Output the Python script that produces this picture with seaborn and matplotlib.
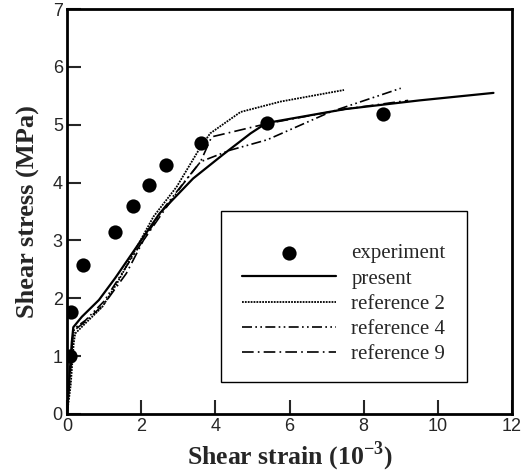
import matplotlib
matplotlib.use("Agg")
import matplotlib.pyplot as plt
from matplotlib.patches import Rectangle
import seaborn as sns
import pandas as pd

# Measured shear stress (MPa) against shear strain (10^-3)
exp_strain = [0.08, 0.10, 0.42, 1.30, 1.78, 2.22, 2.68, 3.62, 5.38, 8.53]
exp_stress = [1.01, 1.76, 2.58, 3.15, 3.60, 3.95, 4.31, 4.69, 5.03, 5.18]

# Present model
present_strain = [0.0, 0.05, 0.13, 0.17, 0.40, 0.86, 1.30, 1.60, 2.50, 3.40, 4.20, 4.95, 5.38, 7.50, 9.50, 11.50]
present_stress = [0.0, 0.50, 1.25, 1.50, 1.68, 1.97, 2.35, 2.63, 3.47, 4.07, 4.48, 4.85, 5.03, 5.27, 5.42, 5.55]

# Reference 2
ref2_strain = [0.0, 0.10, 0.18, 0.22, 0.50, 0.95, 1.35, 2.33, 2.96, 3.55, 3.86, 4.68, 5.76, 7.47]
ref2_stress = [0.0, 0.50, 1.22, 1.39, 1.57, 1.85, 2.26, 3.41, 3.93, 4.56, 4.85, 5.22, 5.40, 5.60]

# Reference 4
ref4_strain = [0.0, 0.10, 0.15, 0.20, 0.50, 1.00, 1.50, 2.00, 2.60, 3.20, 3.60, 4.40, 5.40, 7.10, 9.00]
ref4_stress = [0.0, 0.80, 1.30, 1.48, 1.62, 1.95, 2.45, 2.95, 3.55, 4.04, 4.36, 4.56, 4.74, 5.22, 5.63]

# Reference 9
ref9_strain = [0.0, 0.10, 0.15, 0.20, 0.50, 1.00, 1.60, 2.06, 2.60, 3.10, 3.60, 3.90, 5.40, 7.50, 9.20]
ref9_stress = [0.0, 0.80, 1.30, 1.45, 1.60, 1.90, 2.43, 3.00, 3.50, 3.95, 4.36, 4.79, 5.02, 5.27, 5.42]

sns.set_style("white")
plt.rcParams["font.family"] = ["Liberation Sans", "DejaVu Sans"]
plt.rcParams["mathtext.fontset"] = "custom"
plt.rcParams["mathtext.rm"] = "Liberation Serif:bold"
plt.rcParams["mathtext.bf"] = "Liberation Serif:bold"

fig = plt.figure(figsize=(5.28, 4.74), dpi=100)
ax = fig.add_axes([0.1269, 0.1266, 0.9697 - 0.1269, 0.981 - 0.1266])

curves = [
    ("present", present_strain, present_stress, (None, None), 1.6),
    ("reference 2", ref2_strain, ref2_stress, (1, 0.6), 1.3),
    ("reference 4", ref4_strain, ref4_stress, (6, 2, 1, 2, 1, 2), 1.2),
    ("reference 9", ref9_strain, ref9_stress, (7, 2.5, 1, 2.5), 1.2),
]

handles = []
for name, xs, ys, dash, lw in curves:
    df = pd.DataFrame({"strain": xs, "stress": ys})
    sns.lineplot(data=df, x="strain", y="stress", ax=ax, color="black",
                 lw=lw, sort=False, estimator=None, label=name)
    line = ax.lines[-1]
    if dash[0] is not None:
        line.set_dashes(dash)
    handles.append(line)

exp_df = pd.DataFrame({"strain": exp_strain, "stress": exp_stress})
sns.scatterplot(data=exp_df, x="strain", y="stress", ax=ax, color="black",
                s=105, edgecolor="black", linewidth=0, label="experiment", zorder=5)
exp_handle = ax.collections[-1]

ax.set_xlim(0, 12)
ax.set_ylim(0, 7)
ax.set_xticks(range(0, 13, 2))
ax.set_yticks(range(0, 8))
ax.tick_params(direction="in", length=10, width=1.5, labelsize=13,
               bottom=True, left=True, top=False, right=False, pad=3)
for sp in ax.spines.values():
    sp.set_linewidth(2)
    sp.set_color("black")

serif = ["Liberation Serif", "DejaVu Serif"]
ax.set_xlabel(r"Shear strain (10$^{\mathrm{-3}}$)", fontsize=18.5, fontweight="bold",
              family=serif, labelpad=3)
ax.set_ylabel("Shear stress (MPa)", fontsize=19, fontweight="bold",
              family=serif, labelpad=10)

# Legend box drawn as its own rectangle, entries placed inside it
ax.add_patch(Rectangle((0.346, 0.079), 0.553, 0.422, transform=ax.transAxes,
                       facecolor="white", edgecolor="black", lw=1.0, zorder=6))
leg = ax.legend([exp_handle] + handles,
                ["experiment", "present", "reference 2", "reference 4", "reference 9"],
                loc="upper left", bbox_to_anchor=(0.393, 0.42), borderaxespad=0,
                frameon=False, prop={"family": serif, "size": 15},
                handlelength=4.5, handletextpad=0.75, labelspacing=0.27,
                borderpad=0.0, scatterpoints=1)
leg.set_zorder(7)

fig.savefig("out.png", dpi=100)
